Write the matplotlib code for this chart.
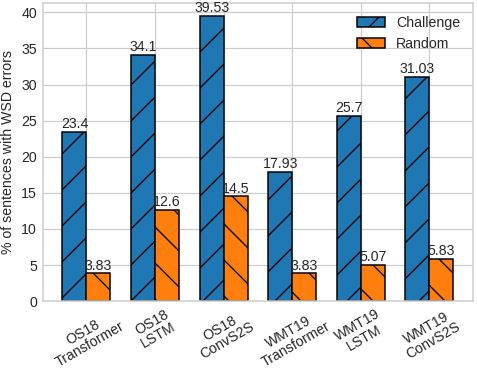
from matplotlib import pyplot as plt
import numpy as np

plt.rcParams['font.family'] = ['Liberation Sans', 'DejaVu Sans']
plt.rcParams['hatch.linewidth'] = 0.9

models = ['OS18\nTransformer', 'OS18\nLSTM', 'OS18\nConvS2S',
          'WMT19\nTransformer', 'WMT19\nLSTM', 'WMT19\nConvS2S']
challenge = [23.4, 34.1, 39.53, 17.93, 25.7, 31.03]
random_ = [3.83, 12.6, 14.5, 3.83, 5.07, 5.83]

txt = '#262626'
fs = 9.4
dpi = 108

fig = plt.figure(figsize=(477 / dpi, 369 / dpi), dpi=dpi)
ax = fig.add_axes([0.090, 0.184, 0.9016, 0.808])

x = np.arange(len(models))
w = 0.35
b1 = ax.bar(x - w / 2, challenge, w, color='#1f77b4', edgecolor='black',
            linewidth=1.0, hatch='/', label='Challenge', zorder=2)
b2 = ax.bar(x + w / 2, random_, w, color='#ff7f0e', edgecolor='black',
            linewidth=1.0, hatch='\\', label='Random', zorder=2)

# valores em cima das barras
for bars, vals in [(b1, challenge), (b2, random_)]:
    for r, v in zip(bars, vals):
        ax.annotate(f'{v}', (r.get_x() + r.get_width() / 2, v),
                    xytext=(0, 0.5), textcoords='offset points',
                    ha='center', va='bottom', fontsize=fs, color=txt)

ax.set_ylim(0, 41.3)
ax.set_yticks(range(0, 41, 5))
ax.set_xticks(x)
ax.set_xticklabels(models, rotation=30, fontsize=fs, color=txt, linespacing=1.0)
ax.tick_params(axis='y', labelsize=fs, labelcolor=txt)
ax.tick_params(length=0, pad=4)
ax.set_ylabel('% of sentences with WSD errors', fontsize=fs, color=txt, labelpad=4)

ax.grid(True, color='#cccccc', linewidth=0.8, zorder=0)
ax.set_axisbelow(True)
for s in ax.spines.values():
    s.set_color('#cccccc')
    s.set_linewidth(1.0)

ax.legend(loc='upper right', fontsize=fs, frameon=False, labelcolor=txt)

plt.savefig('out.png', dpi=dpi)
